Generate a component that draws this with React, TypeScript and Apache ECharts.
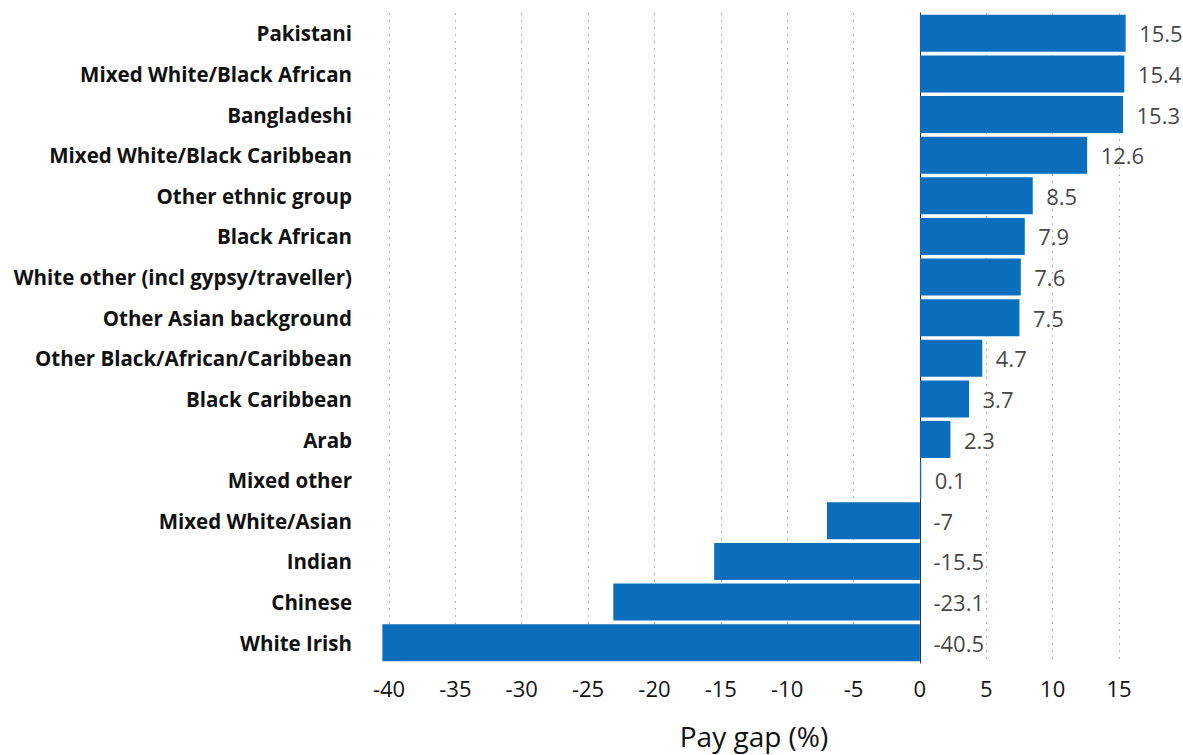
import React, { useEffect, useRef } from "react";
import * as echarts from "echarts";

const categories = [
  "Pakistani",
  "Mixed White/Black African",
  "Bangladeshi",
  "Mixed White/Black Caribbean",
  "Other ethnic group",
  "Black African",
  "White other (incl gypsy/traveller)",
  "Other Asian background",
  "Other Black/African/Caribbean",
  "Black Caribbean",
  "Arab",
  "Mixed other",
  "Mixed White/Asian",
  "Indian",
  "Chinese",
  "White Irish",
];

const payGap = [15.5, 15.4, 15.3, 12.6, 8.5, 7.9, 7.6, 7.5, 4.7, 3.7, 2.3, 0.1, -7, -15.5, -23.1, -40.5];

const xMin = -40;
const xMax = 15;
const xInterval = 5;
const axisName = "Pay gap (%)";

const FONT = "'Open Sans', 'DejaVu Sans', sans-serif";

export default function App() {
  const ref = useRef<HTMLDivElement>(null);
  useEffect(() => {
    if (!ref.current) return;
    const chart = echarts.init(ref.current, null, { renderer: "svg" });
    chart.setOption({
      animation: false,
      backgroundColor: "#ffffff",
      grid: { left: 389, right: 1183 - 1119, top: 13, bottom: 755 - 664, containLabel: false },
      xAxis: {
        type: "value",
        min: xMin,
        max: xMax,
        interval: xInterval,
        name: axisName,
        nameLocation: "middle",
        nameGap: 59,
        nameTextStyle: { fontFamily: FONT, fontSize: 28, color: "#111" },
        axisLine: { show: false },
        axisTick: { show: false },
        axisLabel: { fontFamily: FONT, fontSize: 22, color: "#111", margin: 14 },
        splitLine: { show: true, lineStyle: { color: "#b5b5b5", type: [2, 5], width: 1 } },
      },
      yAxis: {
        type: "category",
        data: categories,
        inverse: true,
        axisLine: { show: true, onZero: true, lineStyle: { color: "#333", width: 1 } },
        axisTick: { show: false },
        axisLabel: { fontFamily: FONT, fontSize: 20.5, fontWeight: 700, color: "#111", margin: 37 },
        splitLine: { show: false },
      },
      series: [
        {
          type: "bar",
          data: payGap,
          barCategoryGap: "9%",
          clip: false,
          itemStyle: { color: "#0a6ebd" },
          z: 2,
        },
        {
          type: "scatter",
          data: payGap.map((v, i) => [Math.max(v, 0), i, v]),
          symbolSize: 1,
          clip: false,
          itemStyle: { color: "transparent" },
          silent: true,
          z: 3,
          label: {
            show: true,
            position: "right",
            distance: 13,
            fontFamily: FONT,
            fontSize: 22,
            color: "#111",
            formatter: (p: any) => String(p.value[2]),
          },
        },
      ],
    });
    return () => chart.dispose();
  }, []);
  return <div ref={ref} style={{ width: 1183, height: 755, position: "absolute", left: 0, top: 0 }} />;
}
